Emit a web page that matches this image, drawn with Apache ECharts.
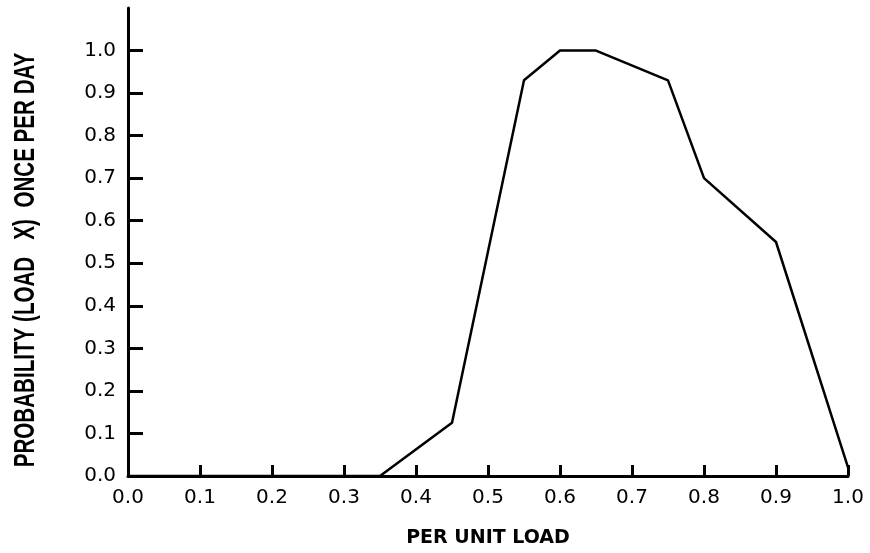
<!DOCTYPE html>
<html>
<head>
<meta charset="utf-8">
<script src="https://cdn.jsdelivr.net/npm/echarts@6/dist/echarts.min.js"></script>
<style>
  html, body { margin: 0; padding: 0; background: #fff; }
  #chart { width: 870px; height: 553px; }
</style>
</head>
<body>
<div id="chart"></div>
<script>
// per unit load vs probability
var loadX = [0.0, 0.35, 0.45, 0.55, 0.60, 0.65, 0.75, 0.80, 0.90, 1.0];
var probY = [0.0, 0.0, 0.125, 0.93, 1.0, 1.0, 0.93, 0.70, 0.55, 0.02];
var xTicks = [0, 0.1, 0.2, 0.3, 0.4, 0.5, 0.6, 0.7, 0.8, 0.9, 1.0];
var yTicks = [0, 0.1, 0.2, 0.3, 0.4, 0.5, 0.6, 0.7, 0.8, 0.9, 1.0];
var xTitle = 'PER UNIT LOAD';
var yTitle = 'PROBABILITY (LOAD   X)  ONCE PER DAY';

var pts = [];
for (var i = 0; i < loadX.length; i++) {
  pts.push([loadX[i], probY[i]]);
}

var labelFont = {
  color: '#000',
  fontFamily: 'DejaVu Sans',
  fontSize: 20
};

var option = {
  animation: false,
  backgroundColor: '#fff',
  grid: { left: 128, right: 22, top: 8, bottom: 75 },
  xAxis: {
    type: 'value',
    min: 0,
    max: 1.0,
    interval: 0.1,
    name: xTitle,
    nameLocation: 'middle',
    nameGap: 53,
    nameTextStyle: {
      color: '#000',
      fontFamily: 'DejaVu Sans',
      fontWeight: 'bold',
      fontSize: 19
    },
    axisLine: { show: true, onZero: false, lineStyle: { color: '#000', width: 3 } },
    axisTick: { show: true, inside: true, length: 11, lineStyle: { color: '#000', width: 3 }, customValues: xTicks },
    axisLabel: Object.assign({
      margin: 12,
      customValues: xTicks,
      formatter: function (v) { return v.toFixed(1); }
    }, labelFont),
    splitLine: { show: false }
  },
  yAxis: {
    type: 'value',
    min: 0,
    max: 1.1,
    interval: 0.1,
    axisLine: { show: true, onZero: false, lineStyle: { color: '#000', width: 3 } },
    axisTick: { show: true, inside: true, length: 15, lineStyle: { color: '#000', width: 3 }, customValues: yTicks },
    axisLabel: Object.assign({
      margin: 12,
      customValues: yTicks,
      formatter: function (v) { return v.toFixed(1); }
    }, labelFont),
    splitLine: { show: false }
  },
  graphic: [{
    type: 'text',
    x: 26,
    y: 260,
    rotation: Math.PI / 2,
    scaleX: 0.71,
    style: {
      text: yTitle,
      fill: '#000',
      font: 'bold 29px "Liberation Sans", Arial, sans-serif',
      textAlign: 'center',
      textVerticalAlign: 'middle'
    }
  }],
  series: [{
    type: 'line',
    data: pts,
    symbol: 'none',
    clip: false,
    lineStyle: { color: '#000', width: 2.5 }
  }]
};

var chart = echarts.init(document.getElementById('chart'));
chart.setOption(option);
</script>
</body>
</html>
